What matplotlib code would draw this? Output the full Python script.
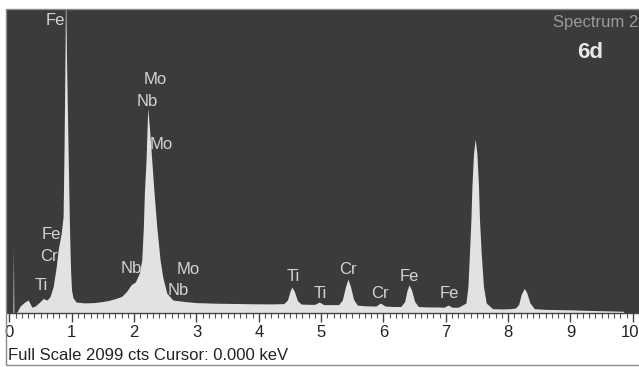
import matplotlib
matplotlib.use('Agg')
import matplotlib.pyplot as plt
from matplotlib.ticker import MultipleLocator, FixedFormatter, FixedLocator
from matplotlib.patches import Rectangle

plt.rcParams['font.family'] = ['Liberation Sans', 'DejaVu Sans']

# ---- data (energy in keV, counts) ----
energy_kev = [
    0.000, 0.055, 0.062, 0.070, 0.100,
    0.125, 0.170, 0.250, 0.300, 0.360, 0.410, 0.490, 0.540, 0.600, 0.650,
    0.700, 0.750, 0.780, 0.830, 0.860, 0.875, 0.890, 0.900, 0.915, 0.940,
    0.963, 0.980, 0.995, 1.020, 1.070, 1.200, 1.350, 1.500, 1.600, 1.700,
    1.800, 1.880, 1.950, 2.020, 2.083, 2.122, 2.148, 2.164, 2.191, 2.218,
    2.244, 2.282, 2.320, 2.363, 2.416, 2.459, 2.523, 2.620, 2.800, 3.000,
    3.300, 3.600, 3.900, 4.200, 4.400, 4.460, 4.500, 4.530, 4.570, 4.620,
    4.680, 4.800, 4.900, 4.970, 5.040, 5.150, 5.280, 5.340, 5.390, 5.430,
    5.470, 5.520, 5.580, 5.700, 5.880, 5.950, 6.030, 6.150, 6.280, 6.340,
    6.380, 6.410, 6.450, 6.500, 6.560, 6.700, 6.850, 6.970, 7.040, 7.100,
    7.200, 7.323, 7.355, 7.380, 7.403, 7.419, 7.445, 7.472, 7.499, 7.525,
    7.541, 7.568, 7.605, 7.649, 7.750, 7.900, 8.050, 8.120, 8.170, 8.210,
    8.260, 8.300, 8.350, 8.420, 8.600, 9.000, 9.300, 9.600, 9.850, 9.860,
]
counts = [
    0, 0, 450, 0, 0,
    10, 48, 78, 90, 40, 48, 78, 100, 90, 113,
    182, 320, 436, 554, 667, 1129, 1753, 2300, 1753, 1129,
    575, 298, 160, 104, 76, 70, 72, 80, 88, 100,
    115, 150, 195, 215, 277, 367, 596, 831, 1060, 1420,
    1288, 1060, 831, 596, 367, 249, 138, 90, 80, 72,
    68, 66, 64, 63, 65, 90, 150, 180, 150, 85,
    62, 60, 60, 76, 58, 58, 58, 90, 180, 235,
    185, 95, 55, 50, 48, 69, 48, 45, 45, 80,
    160, 194, 160, 80, 45, 42, 42, 40, 55, 40,
    40, 69, 182, 416, 644, 875, 1106, 1205, 1106, 875,
    644, 416, 182, 69, 30, 28, 30, 35, 60, 130,
    171, 140, 70, 30, 25, 22, 18, 15, 12, 0,
]

full_scale = 2099
tick_values = [0, 1, 2, 3, 4, 5, 6, 7, 8, 9, 10]
tick_labels = ['0', '1', '2', '3', '4', '5', '6', '7', '8', '9', '10']

peak_labels = ['Fe', 'Mo', 'Nb', 'Mo', 'Fe', 'Cr', 'Ti', 'Nb', 'Mo', 'Nb',
               'Ti', 'Ti', 'Cr', 'Cr', 'Fe', 'Fe']
peak_label_kev = [0.74, 2.34, 2.21, 2.43, 0.674, 0.626, 0.506, 1.95, 2.87, 2.70,
                  4.55, 4.98, 5.43, 5.95, 6.41, 7.05]
peak_label_cts = [1992, 1583, 1437, 1133, 516, 357, 156, 274, 267, 128,
                  225, 104, 270, 104, 225, 104]

footer = 'Full Scale 2099 cts Cursor: 0.000 keV'

# ---- figure ----
W, H = 639, 367
fig = plt.figure(figsize=(W / 100, H / 100), dpi=100)
fig.patch.set_facecolor('white')

ax = fig.add_axes([7 / W, (H - 313) / H, (W - 7) / W, (313 - 10) / H])
ax.set_facecolor('#3b3b3b')
ax.fill_between(energy_kev, counts, 0, color='#e2e2e2', lw=0)
ax.set_xlim(-0.04, 10.10)
ax.set_ylim(0, full_scale)

ax.yaxis.set_visible(False)
for s in ['left', 'right', 'top']:
    ax.spines[s].set_visible(False)
ax.spines['bottom'].set_color('#444444')
ax.spines['bottom'].set_linewidth(1)

ax.xaxis.set_major_locator(FixedLocator(tick_values))
ax.xaxis.set_major_formatter(FixedFormatter(tick_labels[:-1] + ['']))
ax.xaxis.set_minor_locator(MultipleLocator(0.1))
ax.tick_params(axis='x', which='major', length=6.5, width=1, color='#444444',
               labelsize=12, pad=2, labelcolor='#222222')
ax.tick_params(axis='x', which='minor', length=3.5, width=0.8, color='#555555')

# last tick label sits against the right edge (as in the reference)
ax.annotate(tick_labels[-1], xy=(tick_values[-1], 0),
            xycoords=('data', 'axes fraction'), xytext=(4.5, -8.5),
            textcoords='offset points', ha='right', va='top',
            fontsize=12, color='#222222', annotation_clip=False)

for t, xk, yc in zip(peak_labels, peak_label_kev, peak_label_cts):
    ax.text(xk, yc, t, ha='center', va='baseline', fontsize=12,
            color='#d4d4d4')

fig.text(553 / W, (H - 27) / H, 'Spectrum 2', ha='left', va='baseline',
         fontsize=12, color='#9a9a9a')
fig.text(590 / W, (H - 58) / H, '6d', ha='center', va='baseline',
         fontsize=16, fontweight='bold', color='#e8e8e8')

fig.text(8 / W, (H - 360) / H, footer, ha='left', va='baseline',
         fontsize=12, color='#222222')

fig.add_artist(Rectangle((6 / W, 2 / H), (W + 5 - 6) / W, (365 - 9) / H,
                         transform=fig.transFigure, fill=False,
                         ec='#8a8a8a', lw=1))

fig.savefig('out.png', dpi=100)
